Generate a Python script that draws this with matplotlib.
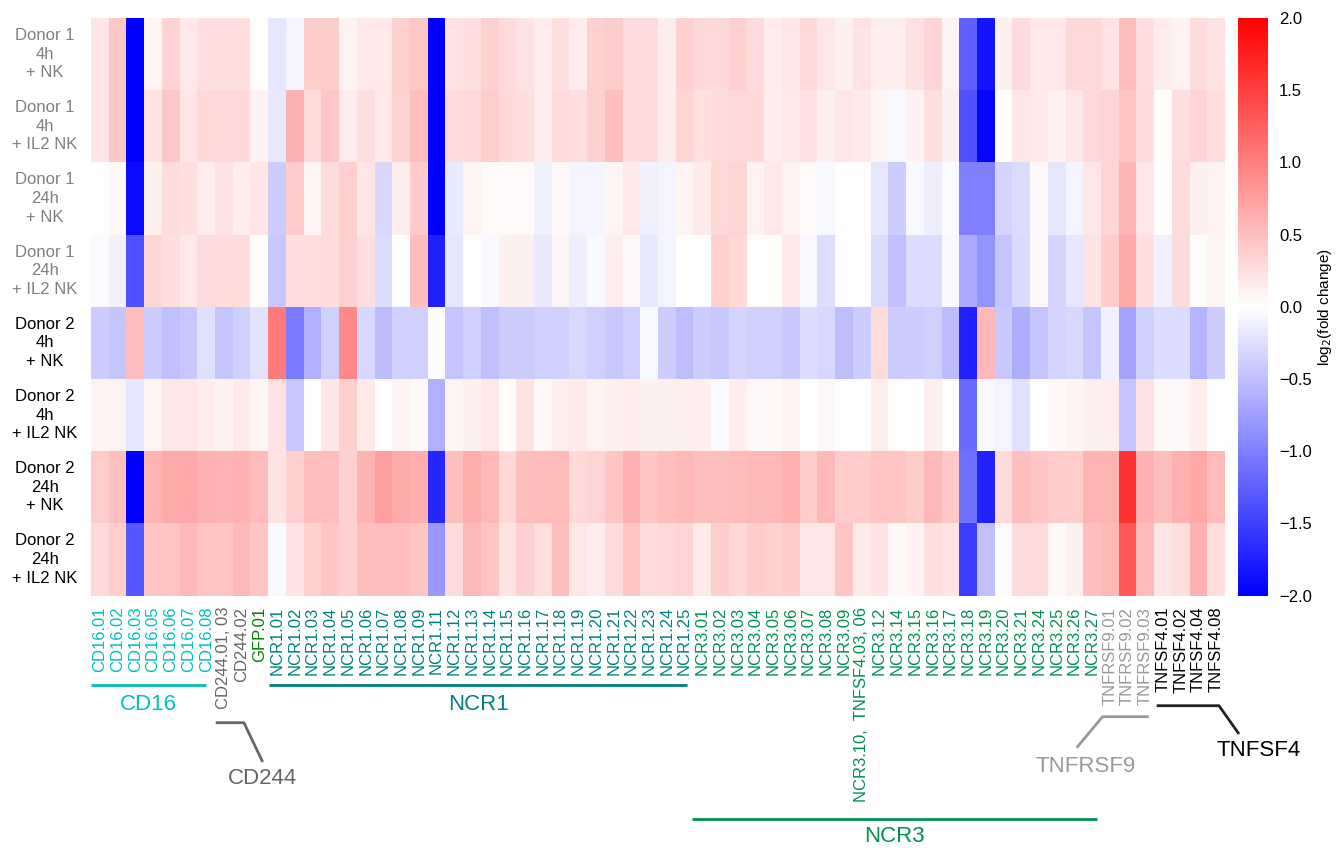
import numpy as np
import matplotlib
matplotlib.use("Agg")
import matplotlib.pyplot as plt
from matplotlib.transforms import blended_transform_factory

plt.rcParams['font.family'] = ['Liberation Sans', 'DejaVu Sans']

# ---------------- data ----------------
columns = (["CD16.01", "CD16.02", "CD16.03", "CD16.05", "CD16.06", "CD16.07", "CD16.08",
            "CD244.01, 03", "CD244.02", "GFP.01",
            "NCR1.01", "NCR1.02", "NCR1.03", "NCR1.04", "NCR1.05", "NCR1.06", "NCR1.07",
            "NCR1.08", "NCR1.09", "NCR1.11", "NCR1.12", "NCR1.13", "NCR1.14", "NCR1.15",
            "NCR1.16", "NCR1.17", "NCR1.18", "NCR1.19", "NCR1.20", "NCR1.21", "NCR1.22",
            "NCR1.23", "NCR1.24", "NCR1.25",
            "NCR3.01", "NCR3.02", "NCR3.03", "NCR3.04", "NCR3.05", "NCR3.06", "NCR3.07",
            "NCR3.08", "NCR3.09", "NCR3.10,  TNFSF4.03, 06", "NCR3.12", "NCR3.14", "NCR3.15",
            "NCR3.16", "NCR3.17", "NCR3.18", "NCR3.19", "NCR3.20", "NCR3.21", "NCR3.24",
            "NCR3.25", "NCR3.26", "NCR3.27",
            "TNFRSF9.01", "TNFRSF9.02", "TNFRSF9.03",
            "TNFSF4.01", "TNFSF4.02", "TNFSF4.04", "TNFSF4.08"])

column_groups = (["CD16"] * 7 + ["CD244"] * 2 + ["GFP"] + ["NCR1"] * 24 +
                 ["NCR3"] * 23 + ["TNFRSF9"] * 3 + ["TNFSF4"] * 4)

row_labels = ["Donor 1\n4h\n+ NK", "Donor 1\n4h\n+ IL2 NK",
              "Donor 1\n24h\n+ NK", "Donor 1\n24h\n+ IL2 NK",
              "Donor 2\n4h\n+ NK", "Donor 2\n4h\n+ IL2 NK",
              "Donor 2\n24h\n+ NK", "Donor 2\n24h\n+ IL2 NK"]

donor1_4h_nk = [0.2, 0.45, -2, 0.08, 0.35, 0.18, 0.25, 0.25, 0.25, 0.02, -0.2, -0.08, 0.4, 0.4, 0.1, 0.18, 0.18, 0.38, 0.45, -2,
                0.23, 0.26, 0.36, 0.29, 0.23, 0.15, 0.25, 0.15, 0.36, 0.4, 0.28, 0.28, 0.15, 0.36, 0.3, 0.3, 0.36, 0.28, 0.15, 0.2, 0.31, 0.2, 0.12, 0.23,
                0.14, 0.14, 0.24, 0.33, 0.1, -1.25, -1.83, 0.12, 0.29, 0.18, 0.18, 0.31, 0.31, 0.23, 0.5, 0.25, 0.15, 0.1, 0.28, 0.23]
donor1_4h_il2nk = [0.2, 0.45, -2, 0.22, 0.45, 0.2, 0.3, 0.3, 0.3, 0.1, -0.18, 0.62, 0.28, 0.45, 0.15, 0.25, 0.18, 0.35, 0.5, -2,
                   0.27, 0.31, 0.4, 0.31, 0.25, 0.15, 0.29, 0.25, 0.36, 0.5, 0.28, 0.28, 0.15, 0.33, 0.24, 0.27, 0.3, 0.3, 0.15, 0.18, 0.24, 0.12, 0.2, 0.17,
                   0.08, -0.05, 0.1, 0.25, 0.12, -1.37, -1.94, 0.03, 0.2, 0.18, 0.1, 0.2, 0.31, 0.33, 0.46, 0.27, 0.03, 0.25, 0.33, 0.25]
donor1_24h_nk = [0.01, 0.05, -1.92, 0.12, 0.27, 0.25, 0.15, 0.23, 0.15, 0.2, -0.4, 0.4, 0.08, 0.27, 0.38, 0.2, -0.3, 0.15, 0.42, -2,
                 -0.17, 0.08, 0.04, 0.04, 0.04, -0.12, 0.05, -0.08, -0.08, 0.08, 0.16, -0.12, -0.08, 0.08, 0.16, 0.3, 0.33, 0.1, 0.18, 0.1, 0.04, -0.05, 0.0, 0.03,
                 -0.2, -0.4, -0.05, -0.13, -0.04, -1.0, -1.0, -0.34, -0.27, 0.05, -0.2, -0.08, 0.2, 0.33, 0.58, 0.2, 0.0, 0.28, 0.12, 0.1]
donor1_24h_il2nk = [-0.04, -0.12, -1.37, 0.32, 0.25, 0.18, 0.27, 0.27, 0.27, 0.02, -0.43, 0.25, 0.25, 0.28, 0.38, 0.25, -0.27, 0.0, 0.52, -1.75,
                    -0.2, 0.03, -0.05, 0.12, 0.12, -0.17, 0.08, -0.13, -0.05, 0.14, 0.05, -0.17, -0.08, 0.02, 0.0, 0.36, 0.3, 0.03, 0.03, 0.18, -0.05, -0.26, 0.03, 0.01,
                    -0.27, -0.5, -0.27, -0.27, -0.05, -0.67, -0.84, -0.46, -0.29, 0.05, -0.34, -0.2, 0.23, 0.4, 0.68, 0.25, -0.12, 0.28, 0.03, 0.08]
donor2_4h_nk = [-0.4, -0.46, 0.5, -0.4, -0.5, -0.43, -0.25, -0.46, -0.37, -0.23, 1.04, -1.04, -0.62, -0.37, 0.93, -0.3, -0.53, -0.37, -0.37, -0.02,
                -0.46, -0.37, -0.5, -0.4, -0.4, -0.37, -0.37, -0.3, -0.37, -0.43, -0.37, -0.05, -0.4, -0.51, -0.4, -0.43, -0.34, -0.37, -0.37, -0.43, -0.27, -0.3, -0.51, -0.4,
                0.27, -0.4, -0.4, -0.37, -0.53, -1.73, 0.56, -0.43, -0.63, -0.46, -0.34, -0.3, -0.46, -0.12, -0.71, -0.37, -0.27, -0.27, -0.59, -0.4]
donor2_4h_il2nk = [0.1, 0.1, -0.2, 0.08, 0.2, 0.2, 0.15, 0.1, 0.18, 0.08, 0.23, -0.43, 0.0, 0.2, 0.38, 0.18, 0.0, 0.1, 0.06, -0.62,
                   0.08, 0.12, 0.18, 0.03, 0.23, 0.06, 0.13, 0.16, 0.1, 0.12, 0.15, 0.12, 0.12, 0.12, 0.14, -0.04, 0.15, 0.05, 0.05, 0.1, 0.0, 0.06, 0.0, 0.0,
                   0.14, 0.03, 0.0, 0.14, 0.03, -1.16, -0.05, -0.08, -0.24, 0.0, 0.05, 0.08, 0.12, 0.14, -0.46, 0.23, 0.05, 0.05, 0.14, 0.0]
donor2_24h_nk = [0.4, 0.5, -2, 0.58, 0.67, 0.67, 0.62, 0.58, 0.62, 0.53, 0.23, 0.36, 0.5, 0.5, 0.36, 0.6, 0.75, 0.67, 0.63, -1.69,
                 0.5, 0.65, 0.56, 0.3, 0.5, 0.54, 0.54, 0.3, 0.33, 0.46, 0.62, 0.46, 0.5, 0.56, 0.5, 0.5, 0.54, 0.56, 0.56, 0.62, 0.4, 0.56, 0.4, 0.4,
                 0.46, 0.46, 0.4, 0.56, 0.43, -1.12, -1.73, 0.29, 0.5, 0.46, 0.4, 0.4, 0.58, 0.58, 1.6, 0.62, 0.5, 0.62, 0.68, 0.54]
donor2_24h_il2nk = [0.3, 0.4, -1.3, 0.46, 0.46, 0.56, 0.46, 0.46, 0.56, 0.46, -0.06, 0.23, 0.36, 0.46, 0.36, 0.5, 0.5, 0.5, 0.46, -0.8,
                    0.28, 0.56, 0.46, 0.23, 0.36, 0.25, 0.5, 0.2, 0.15, 0.28, 0.46, 0.28, 0.3, 0.33, 0.17, 0.4, 0.31, 0.4, 0.36, 0.4, 0.2, 0.2, 0.46, 0.17,
                    0.23, 0.05, 0.1, 0.25, 0.23, -1.53, -0.5, -0.04, 0.27, 0.27, 0.05, 0.12, 0.5, 0.56, 1.3, 0.54, 0.2, 0.25, 0.62, 0.25]

group_colors = {"CD16": "#00BFBF", "CD244": "#666666", "GFP": "#008000",
                "NCR1": "#008080", "NCR3": "#00904F", "TNFRSF9": "#999999",
                "TNFSF4": "#000000"}
row_colors = ["#808080"] * 4 + ["#000000"] * 4

# ---------------- figure ----------------
W, H = 1341, 851
fig = plt.figure(figsize=(W / 100, H / 100), dpi=100)

hm_left, hm_right, hm_top, hm_bottom = 91, 1225, 18, 595.7
ax = fig.add_axes([hm_left / W, 1 - hm_bottom / H, (hm_right - hm_left) / W, (hm_bottom - hm_top) / H])
cax = fig.add_axes([1238 / W, 1 - hm_bottom / H, 30 / W, (hm_bottom - hm_top) / H])

data = np.array([donor1_4h_nk, donor1_4h_il2nk, donor1_24h_nk, donor1_24h_il2nk,
                 donor2_4h_nk, donor2_4h_il2nk, donor2_24h_nk, donor2_24h_il2nk])
ncol = data.shape[1]
nrow = data.shape[0]

mesh = ax.pcolormesh(np.arange(ncol + 1), np.arange(nrow + 1), data,
                     cmap="bwr", vmin=-2, vmax=2, shading="flat")
ax.set_xlim(0, ncol)
ax.set_ylim(nrow, 0)
for s in ax.spines.values():
    s.set_visible(False)

ax.set_xticks(np.arange(ncol) + 0.5)
ax.set_xticklabels(columns, rotation=90, fontsize=12)
ax.tick_params(axis="x", length=0, pad=8)
for lbl, g in zip(ax.get_xticklabels(), column_groups):
    lbl.set_color(group_colors[g])
ax.set_yticks([])

# row labels (centered blocks)
trans_rows = blended_transform_factory(ax.transAxes, ax.transData)
for i, (lab, c) in enumerate(zip(row_labels, row_colors)):
    ax.text(-0.0405, i + 0.5, lab, transform=trans_rows, ha="center", va="center",
            multialignment="center", fontsize=12, color=c, linespacing=1.3)

# colorbar
cb = fig.colorbar(mesh, cax=cax, ticks=np.arange(-2, 2.01, 0.5))
cb.outline.set_visible(False)
cb.ax.tick_params(length=0, labelsize=12, pad=8)
cb.ax.set_yticklabels([f"{t:.1f}".replace("-", "\u2212") for t in np.arange(-2, 2.01, 0.5)])
cb.set_label("log$_2$(fold change)", fontsize=11, labelpad=3)

# group annotations (x in data columns, y in pixel rows -> axes fraction)
def yf(ypx):
    return (hm_bottom - ypx) / (hm_bottom - hm_top)

tr = blended_transform_factory(ax.transData, ax.transAxes)

def bracket(xs, ys, color):
    ax.plot(xs, [yf(y) for y in ys], color=color, lw=2.0, transform=tr,
            clip_on=False, solid_capstyle="butt")

def glabel(x, ypx, text, color):
    ax.text(x, yf(ypx), text, transform=tr, ha="center", va="center",
            fontsize=16, color=color, clip_on=False)

bracket([0.0, 6.5], [685, 685], group_colors["CD16"])
glabel(3.25, 705, "CD16", group_colors["CD16"])

bracket([10.05, 33.65], [685, 685], group_colors["NCR1"])
glabel(21.85, 705, "NCR1", group_colors["NCR1"])

bracket([7.04, 8.63, 9.69], [722.7, 722.7, 762], group_colors["CD244"])
glabel(9.69, 778, "CD244", group_colors["CD244"])

bracket([33.9, 56.8], [819, 819], group_colors["NCR3"])
glabel(45.35, 837, "NCR3", group_colors["NCR3"])

bracket([59.7, 57.09, 55.63], [716.7, 716.7, 747.7], group_colors["TNFRSF9"])
glabel(56.15, 766, "TNFRSF9", group_colors["TNFRSF9"])

bracket([60.14, 63.66, 64.79], [705.7, 705.7, 734], "#222222")
glabel(65.87, 750, "TNFSF4", "#000000")

fig.savefig("out.png", dpi=100)
